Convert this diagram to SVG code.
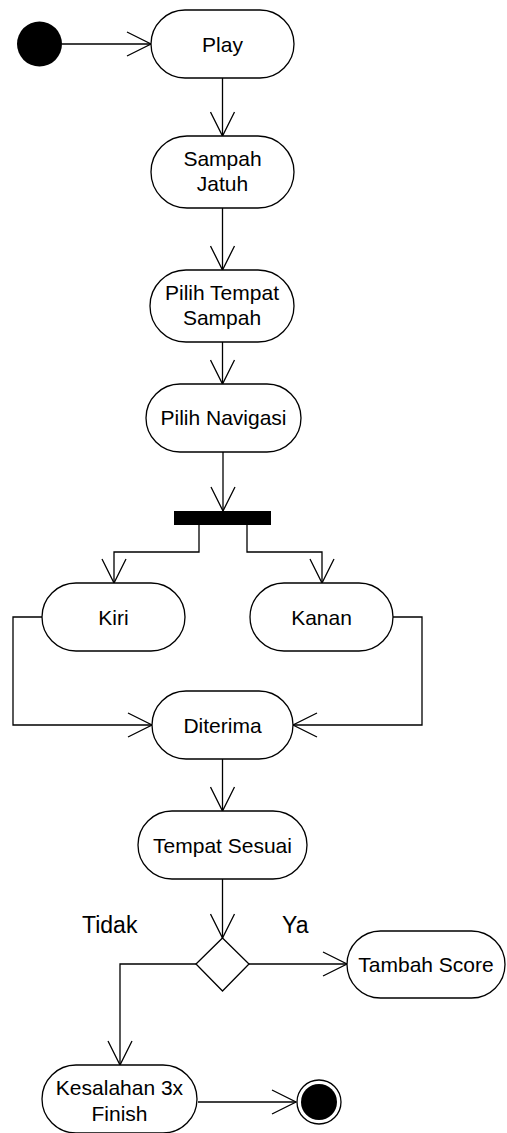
<svg xmlns="http://www.w3.org/2000/svg" width="507" height="1133" viewBox="0 0 507 1133">
  <style>
    .act { fill: #fff; stroke: #000; stroke-width: 1.3; }
    .lbl { font-family: "Liberation Sans", Arial, sans-serif; font-size: 21px; fill: #000; text-anchor: middle; }
    .guard { font-family: "Liberation Sans", Arial, sans-serif; font-size: 23px; fill: #000; }
    .flow { fill: none; stroke: #000; stroke-width: 1.3; }
  </style>
  <defs>
    <marker id="open" viewBox="-25 -13 27 26" refX="0" refY="0" markerWidth="27" markerHeight="26" markerUnits="userSpaceOnUse" orient="auto">
      <path d="M-24,-12 L0,0 L-24,12" fill="none" stroke="#000" stroke-width="1.3"/>
    </marker>
  </defs>

  <rect width="507" height="1133" fill="#fff"/>

  <!-- connectors -->
  <g id="connectors" class="flow" marker-end="url(#open)">
    <path d="M62,44 H151"/>
    <path d="M222.5,78 V136"/>
    <path d="M222.5,208 V270"/>
    <path d="M222.5,342 V384"/>
    <path d="M223,452 V511"/>
    <path d="M199,525 V552 H114 V583"/>
    <path d="M247,525 V552 H322 V583"/>
    <path d="M42,617 H13 V725 H152"/>
    <path d="M393,617 H422 V725 H293"/>
    <path d="M222.5,759 V811"/>
    <path d="M222.5,879 V938"/>
    <path d="M249,964 H347"/>
    <path d="M196,964 H120 V1065"/>
    <path d="M198,1102 H296"/>
  </g>

  <!-- initial state -->
  <g id="start">
    <circle cx="39.5" cy="44" r="22.5" fill="#000"/>
  </g>

  <g id="play">
    <rect class="act" x="151" y="10" width="143" height="68" rx="34"/>
    <text class="lbl" x="222.5" y="51.5">Play</text>
  </g>

  <g id="sampah-jatuh">
    <rect class="act" x="151" y="136" width="143" height="72" rx="36"/>
    <text class="lbl" x="222.5" y="166">Sampah</text>
    <text class="lbl" x="222.5" y="191">Jatuh</text>
  </g>

  <g id="pilih-tempat-sampah">
    <rect class="act" x="150" y="270" width="144" height="72" rx="36"/>
    <text class="lbl" x="222" y="300">Pilih Tempat</text>
    <text class="lbl" x="222" y="325">Sampah</text>
  </g>

  <g id="pilih-navigasi">
    <rect class="act" x="146" y="384" width="155" height="68" rx="34"/>
    <text class="lbl" x="223.5" y="425">Pilih Navigasi</text>
  </g>

  <!-- fork bar -->
  <g id="fork">
    <rect x="174" y="511" width="97" height="14" fill="#000"/>
  </g>

  <g id="kiri">
    <rect class="act" x="42" y="583" width="143" height="68" rx="34"/>
    <text class="lbl" x="113.5" y="624.5">Kiri</text>
  </g>

  <g id="kanan">
    <rect class="act" x="250" y="583" width="143" height="68" rx="34"/>
    <text class="lbl" x="321.5" y="624.5">Kanan</text>
  </g>

  <g id="diterima">
    <rect class="act" x="152" y="691" width="141" height="68" rx="34"/>
    <text class="lbl" x="222.5" y="732.5">Diterima</text>
  </g>

  <g id="tempat-sesuai">
    <rect class="act" x="138" y="811" width="169" height="68" rx="34"/>
    <text class="lbl" x="222.5" y="852.5">Tempat Sesuai</text>
  </g>

  <!-- decision -->
  <g id="decision">
    <path class="act" d="M222.5,938 L249,964 L222.5,991 L196,964 Z"/>
    <text class="guard" x="82" y="933">Tidak</text>
    <text class="guard" x="282" y="933">Ya</text>
  </g>

  <g id="tambah-score">
    <rect class="act" x="347" y="931" width="158" height="67" rx="33.5"/>
    <text class="lbl" x="426" y="972">Tambah Score</text>
  </g>

  <g id="kesalahan-finish">
    <rect class="act" x="42" y="1065" width="155" height="68" rx="34"/>
    <text class="lbl" x="119.5" y="1095">Kesalahan 3x</text>
    <text class="lbl" x="119.5" y="1121">Finish</text>
  </g>

  <!-- final state -->
  <g id="end">
    <circle cx="319" cy="1102" r="22" fill="#fff" stroke="#000" stroke-width="1.3"/>
    <circle cx="319" cy="1102" r="18" fill="#000"/>
  </g>
</svg>
